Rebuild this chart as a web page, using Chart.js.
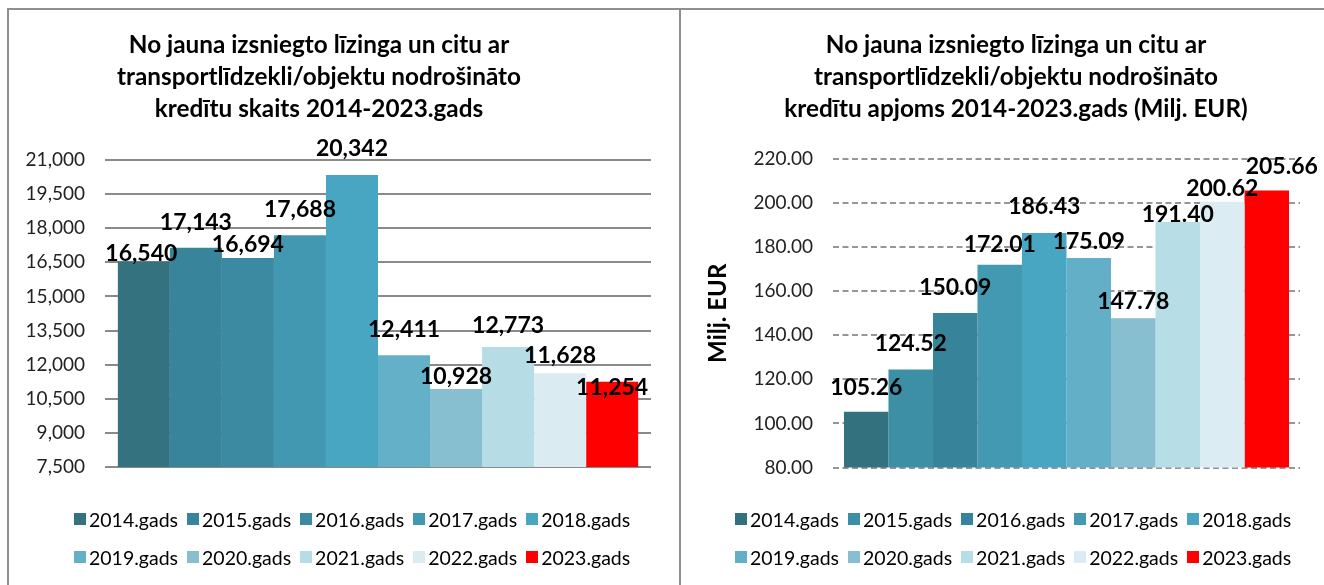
<!DOCTYPE html>
<html>
<head>
<meta charset="utf-8">
<script src="https://cdn.jsdelivr.net/npm/chart.js@4"></script>
<style>
  html, body { margin: 0; padding: 0; background: #fff; }
  body { width: 1324px; height: 585px; position: relative; overflow: hidden; font-family: Lato, sans-serif; }
  .frame { position: absolute; box-sizing: border-box; border-top: 2px solid #8f8f8f; border-left: 2px solid #8f8f8f; z-index: 2; pointer-events: none; }
  #frameL { left: 7px; top: 8px; width: 672px; height: 577px; }
  #frameR { left: 679px; top: 8px; width: 645px; height: 577px; }
  .box { position: absolute; }
  #boxL { left: 9px; top: 10px; width: 670px; height: 575px; }
  #boxR { left: 681px; top: 10px; width: 643px; height: 575px; }
  .legend { position: absolute; font-family: Lato, sans-serif; font-size: 19.5px; color: #000; }
  .row { position: absolute; left: 0; height: 24px; display: flex; align-items: center; white-space: nowrap; }
  .item { display: flex; align-items: center; margin-right: 9px; }
  .sw { width: 12px; height: 12px; margin-right: 3px; }
</style>
</head>
<body>
<div class="frame" id="frameL"></div>
<div class="frame" id="frameR"></div>
<div class="box" id="boxL"><canvas id="countChart"></canvas></div>
<div class="box" id="boxR"><canvas id="volumeChart"></canvas></div>
<div class="legend" id="legendL" style="left:74px; top:0;"></div>
<div class="legend" id="legendR" style="left:735px; top:0;"></div>
<script>
// data
const YEARS = ['2014.gads', '2015.gads', '2016.gads', '2017.gads', '2018.gads',
               '2019.gads', '2020.gads', '2021.gads', '2022.gads', '2023.gads'];
const COUNTS = [16540, 17143, 16694, 17688, 20342, 12411, 10928, 12773, 11628, 11254];
const VOLUMES = [105.26, 124.52, 150.09, 172.01, 186.43, 175.09, 147.78, 191.40, 200.62, 205.66];

const COUNT_TICKS = { min: 7500, max: 21000, step: 1500 };
const VOLUME_TICKS = { min: 80, max: 220, step: 20 };

const COUNT_COLORS = ['#34727f', '#38849a', '#3b8aa1', '#4298b0', '#48a6c2',
                      '#64b0c8', '#87bfd0', '#b6dce6', '#daecf2', '#ff0000'];
const VOLUME_COLORS = ['#33717f', '#3d8fa6', '#37849a', '#4399b1', '#49a6c2',
                       '#63afc7', '#87bed0', '#b7dde7', '#dbedf3', '#ff0000'];

const COUNT_TITLE = ['No jauna izsniegto līzinga un citu ar',
                     'transportlīdzekli/objektu nodrošināto',
                     'kredītu skaits 2014-2023.gads'];
const VOLUME_TITLE = ['No jauna izsniegto līzinga un citu ar',
                      'transportlīdzekli/objektu nodrošināto',
                      'kredītu apjoms 2014-2023.gads (Milj. EUR)'];

// value labels above bars (the source nudged some of them by hand)
function barLabels(format, lift, dx) {
    return {
        id: 'barLabels',
        afterDatasetsDraw(chart) {
            const ctx = chart.ctx;
            ctx.save();
            ctx.font = 'bold 23px Lato';
            ctx.fillStyle = '#000';
            ctx.textAlign = 'center';
            ctx.textBaseline = 'alphabetic';
            chart.data.datasets.forEach((ds, i) => {
                const bar = chart.getDatasetMeta(i).data[0];
                ctx.fillText(format(ds.data[0]), bar.x + (dx[i] || 0), bar.y - (lift[i] || 0));
            });
            ctx.restore();
        }
    };
}

// Excel centred the title a bit off the plot centre
function shiftTitle(dx) {
    return {
        id: 'shiftTitle',
        afterLayout(chart) {
            chart.titleBlock.left += dx;
            chart.titleBlock.right += dx;
        }
    };
}

function buildDatasets(values, colors) {
    return YEARS.map((year, i) => ({
        label: year,
        data: [values[i]],
        backgroundColor: colors[i],
        borderWidth: 0,
        categoryPercentage: 0.953,
        barPercentage: 1
    }));
}

function titleOptions(lines, bottom) {
    return {
        display: true,
        text: lines,
        color: '#000',
        font: { family: 'Lato', size: 24.3, weight: 'bold', lineHeight: '32px' },
        padding: { top: 19, bottom: bottom }
    };
}

function buildLegend(el, colors) {
    const rows = [[0, 5, 507], [5, 10, 545]];
    rows.forEach(([a, b, top]) => {
        const row = document.createElement('div');
        row.className = 'row';
        row.style.top = top + 'px';
        for (let i = a; i < b; i++) {
            const item = document.createElement('div');
            item.className = 'item';
            const sw = document.createElement('span');
            sw.className = 'sw';
            sw.style.background = colors[i];
            const txt = document.createElement('span');
            txt.textContent = YEARS[i];
            item.appendChild(sw);
            item.appendChild(txt);
            row.appendChild(item);
        }
        el.appendChild(row);
    });
}

Chart.defaults.font.family = 'Lato';

new Chart(document.getElementById('countChart'), {
    type: 'bar',
    data: { labels: [''], datasets: buildDatasets(COUNTS, COUNT_COLORS) },
    options: {
        responsive: true,
        maintainAspectRatio: false,
        animation: false,
        layout: { padding: { left: 0, right: 28, top: 0, bottom: 118 } },
        plugins: {
            legend: { display: false },
            tooltip: { enabled: false },
            title: titleOptions(COUNT_TITLE, 35)
        },
        scales: {
            x: { display: false },
            y: {
                min: COUNT_TICKS.min,
                max: COUNT_TICKS.max,
                ticks: {
                    stepSize: COUNT_TICKS.step,
                    padding: 20,
                    color: '#222',
                    font: { size: 19 },
                    callback: v => v.toLocaleString('en-US')
                },
                grid: { color: '#8a8a8a', lineWidth: 2, drawTicks: false },
                border: { display: false },
                afterFit: s => { s.width = 96; }
            }
        }
    },
    plugins: [
        barLabels(v => v.toLocaleString('en-US'),
                  [0, 18, 6, 18, 19, 18, 5, 14, 10, -13],
                  [-2.5, 0, 0, 0, 0, 0, 0, 0, 0, 0]),
        shiftTitle(-11)
    ]
});

new Chart(document.getElementById('volumeChart'), {
    type: 'bar',
    data: { labels: [''], datasets: buildDatasets(VOLUMES, VOLUME_COLORS) },
    options: {
        responsive: true,
        maintainAspectRatio: false,
        animation: false,
        layout: { padding: { left: 0, right: 24, top: 0, bottom: 117.5 } },
        plugins: {
            legend: { display: false },
            tooltip: { enabled: false },
            title: titleOptions(VOLUME_TITLE, 34)
        },
        scales: {
            x: { display: false },
            y: {
                min: VOLUME_TICKS.min,
                max: VOLUME_TICKS.max,
                title: {
                    display: true,
                    text: 'Milj. EUR',
                    color: '#000',
                    font: { size: 24, weight: 'bold' },
                    padding: { top: 23, bottom: 0 }
                },
                ticks: {
                    stepSize: VOLUME_TICKS.step,
                    padding: 20,
                    color: '#222',
                    font: { size: 19 },
                    callback: v => v.toFixed(2)
                },
                grid: { color: '#969696', lineWidth: 2, drawTicks: false },
                border: { display: false, dash: [6, 3.5] },
                afterFit: s => { s.width = 152; }
            }
        }
    },
    plugins: [
        barLabels(v => v.toFixed(2),
                  [17, 18, 18, 13, 19, 9, 9, 0, 6, 17],
                  [0, 0, 0, 0, 0, 0, 0, 0, 0, 15]),
        shiftTitle(25.5)
    ]
});

buildLegend(document.getElementById('legendL'), COUNT_COLORS);
buildLegend(document.getElementById('legendR'), VOLUME_COLORS);
</script>
</body>
</html>
